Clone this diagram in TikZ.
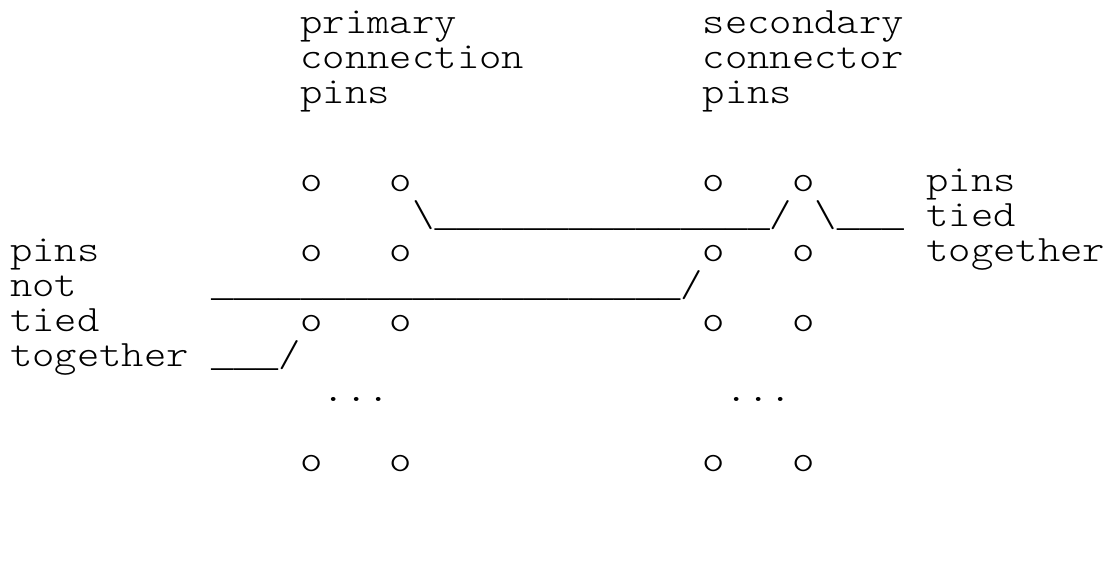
\documentclass[tikz,border=0pt]{standalone}
\usepackage{graphicx}
\newcommand{\asciistr}[1]{\scalebox{1.143}[1]{#1}}
\font\ulfont="Liberation Mono" at 37.25pt
\newcommand{\usc}{\char95 }
\begin{document}
\begin{tikzpicture}[x=1pt,y=-1pt,
  txt/.style={anchor=base west, inner sep=0pt, outer sep=0pt,
    font=\ttfamily\fontseries{l}\fontsize{37.25}{37.25}\selectfont}]
\useasboundingbox (0,0) rectangle (1110,575);
\def\cw{22.35}
\def\xz{10}
% header rows
\node[txt] (h1a) at ({\xz+13*\cw},34) {\asciistr{primary}};
\node[txt] (h1b) at ({\xz+31*\cw},34) {\asciistr{secondary}};
\node[txt] (h2a) at ({\xz+13*\cw},69) {\asciistr{connection}};
\node[txt] (h2b) at ({\xz+31*\cw},69) {\asciistr{connector}};
\node[txt] (h3a) at ({\xz+13*\cw},104) {\asciistr{pins}};
\node[txt] (h3b) at ({\xz+31*\cw},104) {\asciistr{pins}};
% row 5
\node[txt] (o5a) at ({\xz+13*\cw},191) {\asciistr{o}};
\node[txt] (o5b) at ({\xz+17*\cw},191) {\asciistr{o}};
\node[txt] (o5c) at ({\xz+31*\cw},191) {\asciistr{o}};
\node[txt] (o5d) at ({\xz+35*\cw},191) {\asciistr{o}};
\node[txt] (r5t) at ({\xz+41*\cw},191) {\asciistr{pins}};
% row 6
\node[txt] (w6a) at ({\xz+18*\cw},226) {\asciistr{\textbackslash}{\ulfont\usc\usc\usc\usc\usc\usc\usc\usc\usc\usc\usc\usc\usc\usc\usc}\asciistr{/}};
\node[txt] (w6b) at ({\xz+36*\cw},226) {\asciistr{\textbackslash}{\ulfont\usc\usc\usc}};
\node[txt] (r6t) at ({\xz+41*\cw},226) {\asciistr{tied}};
% row 7
\node[txt] (l7) at ({\xz},261) {\asciistr{pins}};
\node[txt] (o7a) at ({\xz+13*\cw},261) {\asciistr{o}};
\node[txt] (o7b) at ({\xz+17*\cw},261) {\asciistr{o}};
\node[txt] (o7c) at ({\xz+31*\cw},261) {\asciistr{o}};
\node[txt] (o7d) at ({\xz+35*\cw},261) {\asciistr{o}};
\node[txt] (r7t) at ({\xz+41*\cw},261) {\asciistr{together}};
% row 8
\node[txt] (l8) at ({\xz},296) {\asciistr{not}};
\node[txt] (w8) at ({\xz+9*\cw},296) {{\ulfont\usc\usc\usc\usc\usc\usc\usc\usc\usc\usc\usc\usc\usc\usc\usc\usc\usc\usc\usc\usc\usc}\asciistr{/}};
% row 9
\node[txt] (l9) at ({\xz},331) {\asciistr{tied}};
\node[txt] (o9a) at ({\xz+13*\cw},331) {\asciistr{o}};
\node[txt] (o9b) at ({\xz+17*\cw},331) {\asciistr{o}};
\node[txt] (o9c) at ({\xz+31*\cw},331) {\asciistr{o}};
\node[txt] (o9d) at ({\xz+35*\cw},331) {\asciistr{o}};
% row 10
\node[txt] (l10) at ({\xz},366) {\asciistr{together}};
\node[txt] (w10) at ({\xz+9*\cw},366) {{\ulfont\usc\usc\usc}\asciistr{/}};
% row 11
\node[txt] (d11a) at ({\xz+14*\cw},401) {\asciistr{...}};
\node[txt] (d11b) at ({\xz+32*\cw},401) {\asciistr{...}};
% row 13
\node[txt] (o13a) at ({\xz+13*\cw},471) {\asciistr{o}};
\node[txt] (o13b) at ({\xz+17*\cw},471) {\asciistr{o}};
\node[txt] (o13c) at ({\xz+31*\cw},471) {\asciistr{o}};
\node[txt] (o13d) at ({\xz+35*\cw},471) {\asciistr{o}};
\end{tikzpicture}
\end{document}
